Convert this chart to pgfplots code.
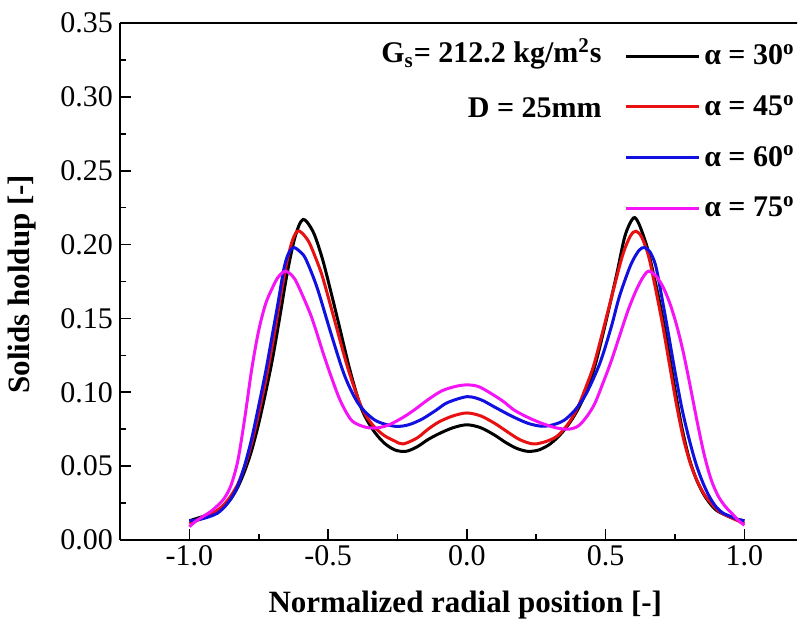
\documentclass[border=0pt]{standalone}
\usepackage{fontspec}
\setmainfont{Liberation Serif}
\usepackage{pgfplots}
\pgfplotsset{compat=1.18}

\definecolor{c30}{RGB}{0,0,0}
\definecolor{c45}{RGB}{232,16,16}
\definecolor{c60}{RGB}{16,16,225}
\definecolor{c75}{RGB}{245,20,245}

% Radial solids holdup profiles, Gs = 212.2 kg/m2s, D = 25 mm
\pgfplotstableread{
x y
-1.00 0.013
-0.975 0.0145
-0.95 0.016
-0.925 0.0175
-0.90 0.0195
-0.875 0.023
-0.85 0.028
-0.825 0.036
-0.80 0.047
-0.775 0.061
-0.75 0.079
-0.725 0.100
-0.70 0.123
-0.675 0.150
-0.65 0.178
-0.625 0.201
-0.605 0.213
-0.59 0.217
-0.575 0.215
-0.55 0.207
-0.52 0.190
-0.49 0.168
-0.46 0.145
-0.42 0.114
-0.38 0.089
-0.34 0.075
-0.30 0.066
-0.26 0.061
-0.22 0.060
-0.18 0.063
-0.14 0.068
-0.10 0.072
-0.05 0.076
0.00 0.078
0.05 0.076
0.10 0.071
0.14 0.066
0.18 0.062
0.22 0.060
0.26 0.061
0.30 0.065
0.34 0.072
0.38 0.082
0.42 0.096
0.46 0.117
0.50 0.147
0.54 0.180
0.57 0.206
0.60 0.218
0.62 0.214
0.65 0.198
0.675 0.178
0.70 0.156
0.725 0.130
0.75 0.102
0.775 0.076
0.80 0.056
0.825 0.042
0.85 0.032
0.875 0.025
0.90 0.020
0.925 0.0175
0.95 0.0155
0.975 0.014
1.00 0.013
}\alphathirty

\pgfplotstableread{
x y
-1.00 0.011
-0.975 0.013
-0.95 0.015
-0.925 0.0175
-0.90 0.020
-0.875 0.024
-0.85 0.030
-0.825 0.038
-0.80 0.050
-0.775 0.066
-0.75 0.086
-0.725 0.108
-0.70 0.133
-0.675 0.161
-0.65 0.187
-0.63 0.202
-0.612 0.209
-0.595 0.208
-0.57 0.202
-0.545 0.191
-0.52 0.178
-0.48 0.151
-0.43 0.117
-0.38 0.090
-0.34 0.078
-0.30 0.071
-0.26 0.067
-0.23 0.065
-0.18 0.069
-0.14 0.075
-0.10 0.080
-0.05 0.084
0.00 0.086
0.05 0.084
0.10 0.079
0.14 0.074
0.19 0.068
0.24 0.065
0.29 0.067
0.33 0.071
0.37 0.080
0.40 0.090
0.43 0.104
0.46 0.120
0.51 0.156
0.56 0.192
0.59 0.206
0.61 0.209
0.63 0.205
0.655 0.192
0.68 0.170
0.705 0.146
0.73 0.119
0.755 0.092
0.78 0.069
0.805 0.052
0.83 0.040
0.855 0.031
0.88 0.025
0.905 0.020
0.93 0.017
0.965 0.014
1.00 0.011
}\alphafortyfive

\pgfplotstableread{
x y
-1.00 0.013
-0.975 0.0135
-0.95 0.0145
-0.925 0.016
-0.90 0.018
-0.875 0.022
-0.85 0.028
-0.825 0.037
-0.80 0.051
-0.775 0.069
-0.75 0.091
-0.725 0.114
-0.70 0.140
-0.68 0.161
-0.66 0.183
-0.645 0.193
-0.625 0.198
-0.60 0.195
-0.58 0.190
-0.54 0.171
-0.49 0.140
-0.44 0.111
-0.39 0.092
-0.33 0.081
-0.26 0.077
-0.21 0.078
-0.16 0.082
-0.11 0.088
-0.07 0.093
0.00 0.097
0.05 0.095
0.10 0.090
0.16 0.084
0.22 0.079
0.27 0.077
0.31 0.078
0.35 0.081
0.39 0.088
0.43 0.099
0.48 0.120
0.52 0.144
0.55 0.165
0.59 0.186
0.62 0.196
0.64 0.198
0.66 0.195
0.68 0.186
0.70 0.167
0.725 0.141
0.75 0.114
0.775 0.089
0.80 0.069
0.825 0.052
0.85 0.039
0.875 0.029
0.90 0.022
0.925 0.018
0.95 0.016
0.975 0.014
1.00 0.013
}\alphasixty

\pgfplotstableread{
x y
-1.00 0.009
-0.975 0.013
-0.95 0.016
-0.925 0.019
-0.90 0.023
-0.875 0.028
-0.85 0.037
-0.825 0.054
-0.80 0.083
-0.775 0.116
-0.75 0.142
-0.725 0.160
-0.70 0.171
-0.68 0.178
-0.655 0.182
-0.63 0.179
-0.61 0.173
-0.56 0.151
-0.51 0.122
-0.46 0.096
-0.42 0.082
-0.39 0.078
-0.355 0.076
-0.32 0.076
-0.28 0.078
-0.23 0.083
-0.19 0.088
-0.14 0.095
-0.09 0.101
-0.04 0.104
0.00 0.105
0.04 0.104
0.08 0.100
0.13 0.094
0.17 0.088
0.22 0.083
0.27 0.079
0.32 0.076
0.365 0.075
0.40 0.077
0.43 0.083
0.46 0.092
0.49 0.106
0.52 0.121
0.55 0.138
0.58 0.155
0.61 0.169
0.635 0.178
0.655 0.182
0.68 0.179
0.705 0.172
0.73 0.161
0.755 0.146
0.78 0.127
0.805 0.104
0.83 0.080
0.855 0.058
0.88 0.041
0.905 0.030
0.93 0.023
0.955 0.018
0.98 0.013
1.00 0.010
}\alphaseventyfive

\newcommand{\bigfont}{\fontsize{15}{18}\selectfont}

\begin{document}
\begin{tikzpicture}
\begin{axis}[
  scale only axis,
  width=338.5pt, height=258.5pt,
  xmin=-1.25, xmax=1.1897,
  ymin=0, ymax=0.35,
  axis x line*=bottom, axis y line*=left,
  axis line style={line width=0.8pt},
  tick align=inside,
  major tick length=5.5pt, minor tick length=3pt,
  tick style={line width=0.8pt, black},
  xtick={-1,-0.5,0,0.5,1},
  xticklabels={-1.0,-0.5,0.0,0.5,1.0},
  minor xtick={-0.75,-0.25,0.25,0.75},
  ytick={0,0.05,0.10,0.15,0.20,0.25,0.30,0.35},
  yticklabels={0.00,0.05,0.10,0.15,0.20,0.25,0.30,0.35},
  minor ytick={0.025,0.075,0.125,0.175,0.225,0.275,0.325},
  tick label style={font=\bigfont},
  xticklabel shift=-1pt,
  xlabel={Normalized radial position [-]},
  ylabel={Solids holdup [-]},
  xlabel style={font=\fontsize{15.5}{18}\selectfont\bfseries,
    at={(axis description cs:0.510,-0.126)}, anchor=center},
  ylabel style={font=\fontsize{15.5}{18}\selectfont\bfseries,
    at={(axis description cs:-0.145,0.495)}, anchor=center},
  legend style={draw=none, fill=none, at={(rel axis cs:1,1)},
    anchor=north east, xshift=1pt, yshift=-8.5pt, inner sep=0pt,
    row sep=9.7pt, font=\bigfont\bfseries},
  legend cell align=left,
  legend image code/.code={\draw[#1, line width=1.5pt] (0pt,0pt) -- (36.5pt,0pt);},
  every axis plot/.append style={line width=1.5pt, smooth},
]
\addplot[c30] table {\alphathirty};
\addlegendentry{α = 30\textsuperscript{o}}
\addplot[c45] table {\alphafortyfive};
\addlegendentry{α = 45\textsuperscript{o}}
\addplot[c60] table {\alphasixty};
\addlegendentry{α = 60\textsuperscript{o}}
\addplot[c75] table {\alphaseventyfive};
\addlegendentry{α = 75\textsuperscript{o}}

% top frame line, carried on to the right edge of the picture
\draw[line width=0.8pt] (rel axis cs:0,1) -- ([xshift=3pt]rel axis cs:1,1);

\node[anchor=base east, font=\bigfont\bfseries, inner sep=0pt]
  at (rel axis cs:0.712,0.9226) {G\textsubscript{s}= 212.2 kg/m\textsuperscript{2}s};
\node[anchor=base east, font=\bigfont\bfseries, inner sep=0pt]
  at (rel axis cs:0.712,0.818) {D = 25mm};
\end{axis}
\pgfresetboundingbox
\path[use as bounding box]
  ([shift={(-60pt,-47.5pt)}]current axis.south west) rectangle
  ([shift={(3pt,11.5pt)}]current axis.north east);
\end{tikzpicture}
\end{document}
